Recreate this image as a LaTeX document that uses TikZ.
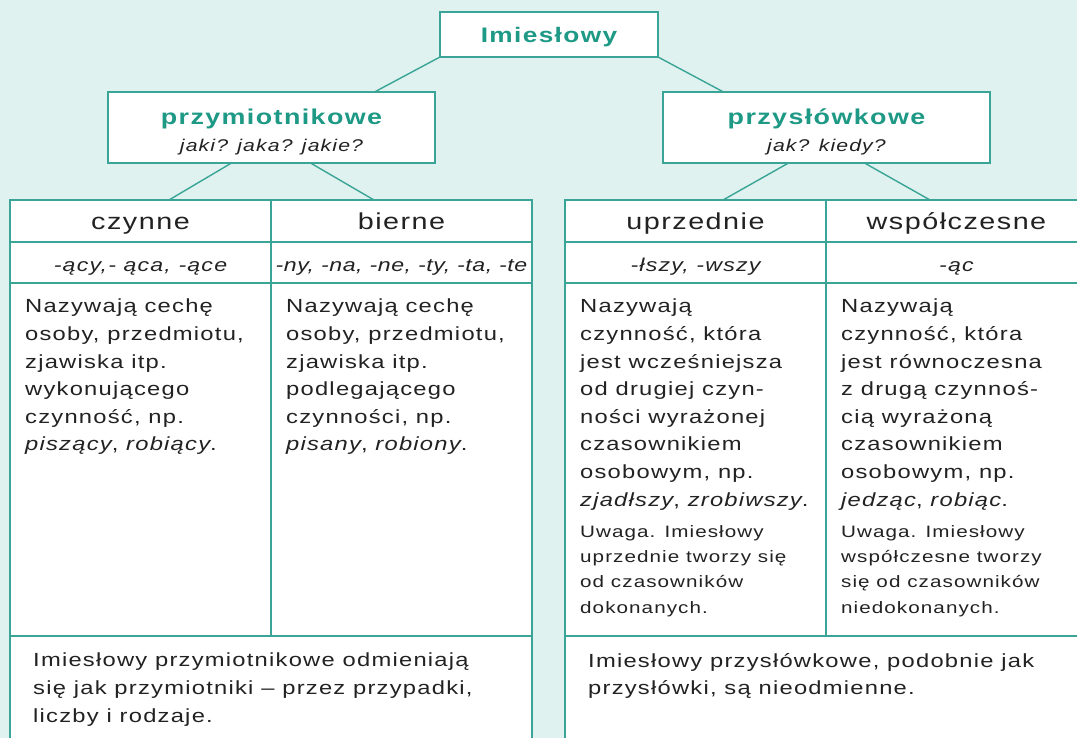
\documentclass[tikz,border=0pt]{standalone}
\usepackage{fontspec}
\setmainfont{Liberation Sans}[FakeStretch = 1.25, LetterSpace = 6.5]
\usetikzlibrary{positioning}
\definecolor{mint}{HTML}{DFF2EF}
\definecolor{tealline}{HTML}{3AA596}
\definecolor{tealtext}{HTML}{1E9985}
\definecolor{ink}{HTML}{222222}

\tikzset{
	box/.style = {draw = tealline, fill = white, line width = 1.6pt, inner sep = 0pt, outer sep = 0pt, anchor = north west, text = ink},
	headcell/.style = {box, minimum width = 261pt, minimum height = 42pt, text height = 18pt, text depth = 0pt, font = \fontsize{23}{26}\selectfont},
	endcell/.style = {box, minimum width = 261pt, minimum height = 41pt, text height = 18pt, text depth = 0pt, font = \fontsize{18.5}{24}\selectfont\itshape},
	bodycell/.style = {box, minimum width = 261pt, minimum height = 353pt},
	bodytext/.style = {inner sep = 0pt, align = left, text = ink, font = \fontsize{19}{27.6}\selectfont},
	notetext/.style = {inner sep = 0pt, align = left, text = ink, font = \fontsize{16.5}{25.3}\selectfont},
	link/.style = {draw = tealline, line width = 1.4pt}
}

\begin{document}
\begin{tikzpicture}[x = 1pt, y = -1pt]
	\fill[mint] (0,0) rectangle (1077,738);
	\clip (0,0) rectangle (1077,738);

	% tree
	\node[box, minimum width = 218pt, minimum height = 45pt, text height = 17pt, text depth = 0pt, font = \fontsize{21}{26}\selectfont\bfseries, text = tealtext] (imieslowy) at (440,12) {Imiesłowy};
	\node[box, minimum width = 327pt, minimum height = 71pt, align = center, font = \fontsize{17}{27}\selectfont] (przym) at (108,92)
		{\rule{0pt}{24pt}{\fontsize{21.5}{27}\selectfont\bfseries\color{tealtext}przymiotnikowe}\\{\itshape jaki? jaka? jakie?}};
	\node[box, minimum width = 327pt, minimum height = 71pt, align = center, font = \fontsize{17}{27}\selectfont] (przysl) at (663,92)
		{\rule{0pt}{24pt}{\fontsize{21.5}{27}\selectfont\bfseries\color{tealtext}przysłówkowe}\\{\itshape jak? kiedy?}};

	% left table
	\node[headcell] (czynne) at (10,200) {czynne};
	\node[headcell] (bierne) at (271,200) {bierne};
	\node[endcell] (czynneEnd) at (10,242) {-ący,- ąca, -ące};
	\node[endcell] (bierneEnd) at (271,242) {\addfontfeature{LetterSpace = 3}-ny, -na, -ne, -ty, -ta, -te};
	\node[bodycell] (czynneBody) at (10,283) {};
	\node[bodycell] (bierneBody) at (271,283) {};
	\node[box, minimum width = 522pt, minimum height = 140pt] (przymNote) at (10,636) {};

	% right table
	\node[headcell] (uprz) at (565,200) {uprzednie};
	\node[headcell] (wspol) at (826,200) {współczesne};
	\node[endcell] (uprzEnd) at (565,242) {-łszy, -wszy};
	\node[endcell] (wspolEnd) at (826,242) {-ąc};
	\node[bodycell] (uprzBody) at (565,283) {};
	\node[bodycell] (wspolBody) at (826,283) {};
	\node[box, minimum width = 522pt, minimum height = 140pt] (przyslNote) at (565,636) {};

	% texts
	\node[bodytext, below right = 16pt and 15pt of czynneBody.north west] (czynneText)
		{Nazywają cechę\\osoby, przedmiotu,\\zjawiska itp.\\wykonującego\\czynność, np.\\\textit{piszący}, \textit{robiący}.};
	\node[bodytext, below right = 16pt and 15pt of bierneBody.north west] (bierneText)
		{Nazywają cechę\\osoby, przedmiotu,\\zjawiska itp.\\podlegającego\\czynności, np.\\\textit{pisany}, \textit{robiony}.};
	\node[bodytext, below right = 16pt and 15pt of uprzBody.north west] (uprzText)
		{Nazywają\\czynność, która\\jest wcześniejsza\\od drugiej czyn-\\ności wyrażonej\\czasownikiem\\osobowym, np.\\\textit{zjadłszy}, \textit{zrobiwszy}.};
	\node[bodytext, below right = 16pt and 15pt of wspolBody.north west] (wspolText)
		{Nazywają\\czynność, która\\jest równoczesna\\z drugą czynnoś-\\cią wyrażoną\\czasownikiem\\osobowym, np.\\\textit{jedząc}, \textit{robiąc}.};
	\node[notetext, below right = 242pt and 15pt of uprzBody.north west] (uprzUwaga)
		{Uwaga. Imiesłowy\\uprzednie tworzy się\\od czasowników\\dokonanych.};
	\node[notetext, below right = 242pt and 15pt of wspolBody.north west] (wspolUwaga)
		{Uwaga. Imiesłowy\\współczesne tworzy\\się od czasowników\\niedokonanych.};
	\node[bodytext, below right = 17pt and 23pt of przymNote.north west] (przymNoteText)
		{Imiesłowy przymiotnikowe odmieniają\\się jak przymiotniki – przez przypadki,\\liczby i rodzaje.};
	\node[bodytext, below right = 17pt and 23pt of przyslNote.north west] (przyslNoteText)
		{Imiesłowy przysłówkowe, podobnie jak\\przysłówki, są nieodmienne.};

	% connectors
	\draw[link] (imieslowy.south west) -- ([xshift = 103pt]przym.north);
	\draw[link] (imieslowy.south east) -- ([xshift = -103pt]przysl.north);
	\draw[link] ([xshift = -40pt]przym.south) -- ([xshift = -102pt]czynne.north east);
	\draw[link] ([xshift = 39pt]przym.south) -- ([xshift = 103pt]bierne.north west);
	\draw[link] ([xshift = -38pt]przysl.south) -- ([xshift = -103pt]uprz.north east);
	\draw[link] ([xshift = 38pt]przysl.south) -- ([xshift = 104pt]wspol.north west);
\end{tikzpicture}
\end{document}
